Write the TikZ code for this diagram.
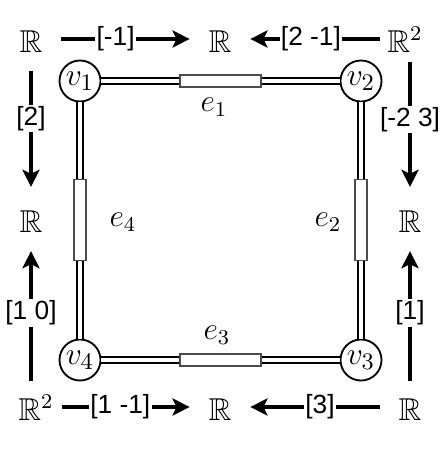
\documentclass[tikz,border=0pt]{standalone}
\usepackage{amsmath}
\usepackage{amssymb}
\usepackage{fontspec}
\setsansfont{Liberation Sans}
\usetikzlibrary{arrows.meta}
\newcommand{\pxUnit}[0]{0.38pt}
\newcommand{\reals}[0]{\ensuremath{\mathbb{R}}}

\begin{document}
\begin{tikzpicture}[x=\pxUnit, y=-\pxUnit]
  \tikzset{vertex/.style={draw, circle, line width=0.7pt, minimum size=15.6pt, inner sep=0pt, font=\fontsize{12.5}{14}\selectfont},
    hedge/.style={draw=black!70, fill=white, line width=0.7pt, minimum width=30.8pt, minimum height=4.4pt, inner sep=0pt},
    vedge/.style={hedge, minimum width=4.4pt, minimum height=30.8pt},
    bond/.style={double, double distance=1.2pt, line width=0.75pt},
    elabel/.style={font=\fontsize{12}{14}\selectfont},
    space/.style={inner sep=0pt, text height=10pt, text depth=0pt, font=\fontsize{12}{14}\selectfont},
    map/.style={-{Stealth[length=6.5pt, width=6.5pt, inset=1.5pt]}, line width=1.25pt, shorten <=7pt, shorten >=7pt},
    coef/.style={fill=white, inner sep=0.5pt, font=\sffamily}}
  \useasboundingbox (0,0) rectangle (441,452);
  \node[vertex] (v1) at (80,81) {$v_1$};
  \node[vertex] (v2) at (361,81) {$v_2$};
  \node[vertex] (v3) at (361,360) {$v_3$};
  \node[vertex] (v4) at (80,360) {$v_4$};
  \node[hedge] (e1) at (220.5,81) {};
  \node[vedge] (e2) at (361,220) {};
  \node[hedge] (e3) at (220.5,360) {};
  \node[vedge] (e4) at (80,220) {};
  \draw[bond] (v1) -- (e1);
  \draw[bond] (e1) -- (v2);
  \draw[bond] (v2) -- (e2);
  \draw[bond] (e2) -- (v3);
  \draw[bond] (v3) -- (e3);
  \draw[bond] (e3) -- (v4);
  \draw[bond] (v4) -- (e4);
  \draw[bond] (e4) -- (v1);
  \node[elabel] (e1lab) at (214,107) {$e_1$};
  \node[elabel] (e2lab) at (328,222) {$e_2$};
  \node[elabel] (e3lab) at (217,335) {$e_3$};
  \node[elabel] (e4lab) at (123,222) {$e_4$};
  \node[space] (tl) at (31,39) {\reals};
  \node[space] (tm) at (220,39) {\reals};
  \node[space] (tr) at (405,39) {$\mathbb{R}^2$};
  \node[space] (ml) at (31,219) {\reals};
  \node[space] (mr) at (410,219) {\reals};
  \node[space] (bl) at (36,407) {$\mathbb{R}^2$};
  \node[space] (bm) at (220,407) {\reals};
  \node[space] (br) at (410,407) {\reals};
  \draw[map] (tl) -- node[coef, pos=0.44]{[-1]} (tm);
  \draw[map, shorten <=2.5pt] (tr) -- node[coef, pos=0.49]{[2 -1]} (tm);
  \draw[map] (tl) -- node[coef, pos=0.43]{[2]} (ml);
  \draw[map, shorten <=4.5pt] (bl.north -| ml) -- node[coef]{[1 0]} (ml);
  \draw[map, shorten <=3.5pt] (tr.south -| mr) -- node[coef, pos=0.44]{[-2 3]} (mr);
  \draw[map, shorten <=4.5pt] (br) -- node[coef]{[1]} (mr);
  \draw[map, shorten <=3pt] (bl) -- node[coef, pos=0.43]{[1 -1]} (bm);
  \draw[map] (br) -- node[coef, pos=0.47]{[3]} (bm);
\end{tikzpicture}
\end{document}
